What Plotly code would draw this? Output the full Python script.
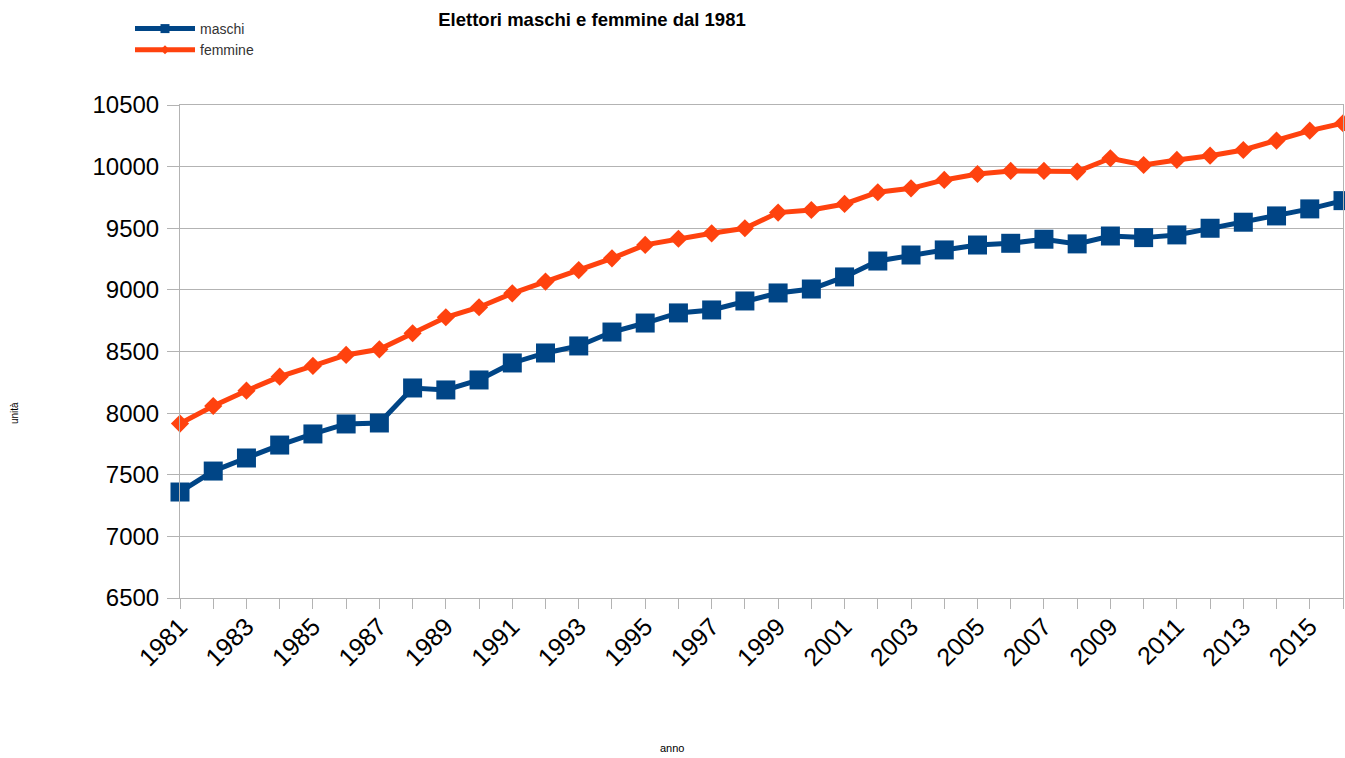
"""
Elettori maschi e femmine dal 1981 - line chart.
"""

import plotly.graph_objects as go

ANNI = list(range(1981, 2017))
MASCHI = [
    7360, 7530, 7636, 7741, 7831, 7912, 7920, 8204, 8188, 8269,
    8407, 8488, 8545, 8658, 8731, 8813, 8837, 8910, 8975, 9007,
    9105, 9234, 9283, 9324, 9364, 9378, 9411, 9373, 9437, 9424,
    9446, 9500, 9549, 9600, 9657, 9724,
]
FEMMINE = [
    7915, 8058, 8182, 8296, 8383, 8472, 8518, 8648, 8778, 8859,
    8972, 9067, 9161, 9256, 9365, 9415, 9459, 9500, 9627, 9648,
    9697, 9792, 9824, 9892, 9940, 9965, 9965, 9960, 10068, 10013,
    10054, 10089, 10135, 10211, 10292, 10352,
]

BLUE = "#004586"
ORANGE = "#ff420e"
GRID = "#b3b3b3"
FONT = "Liberation Sans"
W, H = 1345, 758

fig = go.Figure()
series = [
    ("maschi", MASCHI, BLUE, "square", 19, 9),
    ("femmine", FEMMINE, ORANGE, "diamond", 14, 7),
]
for name, vals, color, symbol, size, legend_size in series:
    fig.add_trace(go.Scatter(
        x=ANNI, y=vals, name=name, mode="lines+markers",
        line=dict(color=color, width=5),
        marker=dict(symbol=symbol, size=size, color=color),
        cliponaxis=False, showlegend=False,
    ))
    # legend entry with small marker, as in the original
    fig.add_trace(go.Scatter(
        x=[None], y=[None], name=name, mode="lines+markers",
        line=dict(color=color, width=5),
        marker=dict(symbol=symbol, size=legend_size, color=color),
    ))

fig.update_layout(
    width=W, height=H,
    paper_bgcolor="white", plot_bgcolor="white",
    font=dict(family=FONT, color="#000000"),
    margin=dict(l=180, r=2, t=105, b=160, autoexpand=False),
    title=dict(
        text="<b>Elettori maschi e femmine dal 1981</b>",
        font=dict(size=18.5, color="#000000"),
        x=592 / W, xanchor="center", xref="container",
        y=1 - 20 / H, yanchor="middle", yref="container",
    ),
    legend=dict(
        xref="container", yref="container",
        x=130 / W, y=1 - 13 / H, xanchor="left", yanchor="top",
        font=dict(size=14, color="#333333"),
        itemwidth=60, tracegroupgap=0,
        bgcolor="rgba(0,0,0,0)",
    ),
    annotations=[
        dict(text="anno", xref="paper", yref="paper", x=(672 - 180) / 1163,
             y=-(748 - 598) / 493, showarrow=False, xanchor="center",
             yanchor="middle", font=dict(size=11, color="#000000")),
        dict(text="unità", xref="paper", yref="paper", x=-(180 - 14) / 1163,
             y=(598 - 413) / 493, showarrow=False, textangle=-90,
             xanchor="center", yanchor="middle",
             font=dict(size=10, color="#000000")),
    ],
)

fig.update_xaxes(
    range=[1981, 2016], tick0=1981, dtick=2, tickformat="d",
    tickangle=-45, tickfont=dict(size=25, color="#000000"), ticklabelstandoff=-7,
    showgrid=False, showline=True, linecolor=GRID, linewidth=1, mirror=True,
    ticks="outside", ticklen=10, tickcolor=GRID,
    minor=dict(dtick=1, ticks="outside", ticklen=10, tickcolor=GRID, showgrid=False),
    zeroline=False, automargin=False,
)
fig.update_yaxes(
    range=[6500, 10500], dtick=500, tickformat="d",
    tickfont=dict(size=24, color="#000000"), ticklabelstandoff=3,
    showgrid=True, gridcolor=GRID, gridwidth=1,
    showline=True, linecolor=GRID, linewidth=1, mirror=True,
    ticks="outside", ticklen=12, tickcolor=GRID,
    zeroline=False, automargin=False,
)

fig.write_html(
    "out.html",
    config={"displayModeBar": False},
    post_script="document.body.style.margin = '0';",
)
